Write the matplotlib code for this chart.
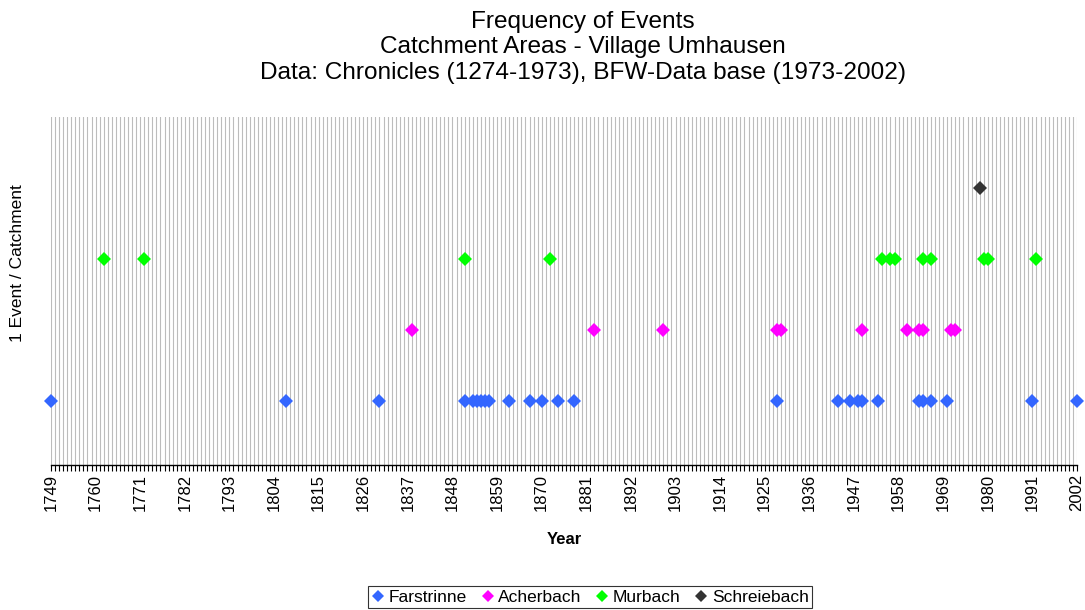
"""Frequency of events per catchment, village Umhausen (chronicles + BFW data base)."""
import matplotlib

matplotlib.use("Agg")
import matplotlib.pyplot as plt

plt.rcParams["font.family"] = ["Liberation Sans", "DejaVu Sans"]

# event years per catchment, one row (level) per catchment
FARSTRINNE = [1749, 1807, 1830, 1851, 1853, 1854, 1855, 1856, 1857, 1862, 1867, 1870, 1874, 1878,
              1928, 1943, 1946, 1948, 1949, 1953, 1963, 1964, 1966, 1970, 1991, 2002]
ACHERBACH = [1838, 1883, 1900, 1928, 1929, 1949, 1960, 1963, 1964, 1971, 1972]
MURBACH = [1762, 1772, 1851, 1872, 1954, 1956, 1957, 1964, 1966, 1979, 1980, 1992]
SCHREIEBACH = [1978]
NAMES = ["Farstrinne", "Acherbach", "Murbach", "Schreiebach"]
LEVELS = [1, 2, 3, 4]
COLORS = ["#3366FF", "#FF00FF", "#00FF00", "#333333"]
YEAR0, YEAR1, STEP = 1749, 2002, 11


def main():
    fig = plt.figure(figsize=(10.85, 6.1), dpi=100)
    ax = fig.add_axes([51 / 1085, 1 - 465 / 610, (1077 - 51) / 1085, (465 - 117) / 610])

    for name, years, lev, col in zip(NAMES, [FARSTRINNE, ACHERBACH, MURBACH, SCHREIEBACH], LEVELS, COLORS):
        ax.plot(years, [lev] * len(years), "D", color=col, ms=6.8, mew=0, label=name,
                clip_on=False, zorder=3)

    ax.set_xlim(YEAR0, YEAR1)
    ax.set_ylim(0.1, 5.0)
    ax.set_xticks(range(YEAR0, YEAR1 + 1, STEP))
    ax.set_xticks(range(YEAR0, YEAR1 + 1), minor=True)
    ax.set_yticks([])
    ax.grid(True, axis="x", which="both", color="#bcbcbc", lw=0.8, zorder=0)
    ax.tick_params(axis="x", which="both", direction="out", length=4.5, width=0.8, color="black")
    ax.tick_params(axis="x", which="major", labelsize=12, rotation=90, pad=2)
    for s in ("top", "right", "left"):
        ax.spines[s].set_visible(False)
    ax.spines["bottom"].set_color("black")
    ax.spines["bottom"].set_linewidth(1.0)

    ax.set_xlabel("Year", fontsize=12, fontweight="bold", labelpad=15)
    fig.text(18 / 1085, 1 - 263 / 610, "1 Event / Catchment", rotation=90, fontsize=12.5,
             ha="center", va="center")
    fig.text(583 / 1085, 1 - 11 / 610,
             "Frequency of Events\nCatchment Areas - Village Umhausen\n"
             "Data: Chronicles (1274-1973), BFW-Data base (1973-2002)",
             ha="center", va="top", fontsize=17.6, linespacing=1.2)

    leg = fig.legend(loc="center", bbox_to_anchor=(590 / 1085, 1 - 597 / 610), ncol=4, fontsize=12.5,
                     frameon=True, fancybox=False, edgecolor="black", handlelength=0.8,
                     handletextpad=0.2, columnspacing=0.8, borderpad=0.2, markerscale=0.9)
    leg.get_frame().set_linewidth(0.8)

    fig.savefig("out.png", dpi=100)
    plt.close(fig)


if __name__ == "__main__":
    main()
